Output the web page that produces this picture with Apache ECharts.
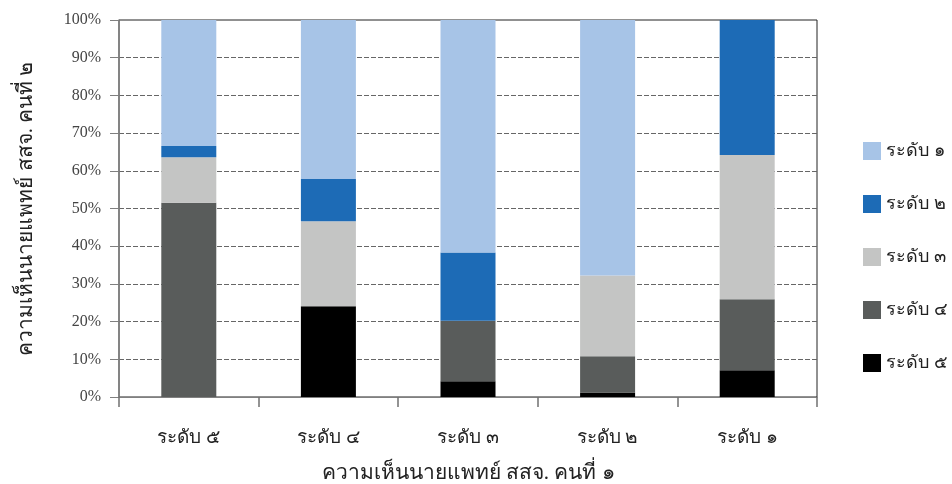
<!DOCTYPE html>
<html>
<head>
<meta charset="utf-8">
<script src="https://cdn.jsdelivr.net/npm/echarts@6/dist/echarts.min.js"></script>
<style>
  html, body { margin: 0; padding: 0; background: #fff; }
  #main { width: 952px; height: 484px; }
</style>
</head>
<body>
<div id="main"></div>
<script>
// categories on x axis (doctor 1 opinion)
const categories = ["ระดับ ๕", "ระดับ ๔", "ระดับ ๓", "ระดับ ๒", "ระดับ ๑"];
// percentages per level of doctor 2, stacked from bottom
const level5 = [0, 24.1, 4.2, 1.2, 7.1];
const level4 = [51.5, 0, 16.0, 9.6, 18.8];
const level3 = [12.1, 22.5, 0, 21.4, 38.3];
const level2 = [3.0, 11.2, 18.1, 0, 35.8];
const level1 = [33.4, 42.2, 61.7, 67.8, 0];
const yTicks = [0, 10, 20, 30, 40, 50, 60, 70, 80, 90, 100];

const serif = "'Liberation Serif', 'DejaVu Serif', serif";
let chart = echarts.init(document.getElementById("main"));

const mk = (name, data, color) => ({
  name: name,
  type: "bar",
  stack: "total",
  barWidth: 55,
  data: data,
  itemStyle: { color: color }
});

chart.setOption({
  animation: false,
  grid: {
    left: 119, right: 135, top: 20, bottom: 87,
    outerBoundsMode: "none",
    show: true, borderColor: "#222", borderWidth: 1
  },
  legend: {
    orient: "vertical",
    left: 858, top: 137,
    itemWidth: 18, itemHeight: 18, itemGap: 35,
    icon: "rect",
    data: ["ระดับ ๑", "ระดับ ๒", "ระดับ ๓", "ระดับ ๔", "ระดับ ๕"],
    textStyle: { fontFamily: serif, fontSize: 18, color: "#222" }
  },
  xAxis: {
    type: "category",
    data: categories,
    name: "ความเห็นนายแพทย์ สสจ. คนที่ ๑",
    nameLocation: "middle",
    nameGap: 66,
    nameTextStyle: { fontFamily: serif, fontSize: 21, color: "#222" },
    axisLine: { lineStyle: { color: "#808080" } },
    axisTick: { show: true, length: 10, lineStyle: { color: "#707070", width: 1.5 } },
    axisLabel: { fontFamily: serif, fontSize: 19, color: "#222", margin: 32 }
  },
  yAxis: {
    type: "value",
    min: yTicks[0], max: yTicks[yTicks.length - 1], interval: 10,
    name: "ความเห็นนายแพทย์ สสจ. คนที่ ๒",
    nameLocation: "middle",
    nameGap: 82,
    nameTextStyle: { fontFamily: serif, fontSize: 21, color: "#222" },
    axisLine: { show: true, lineStyle: { color: "#808080", width: 1.5 } },
    axisTick: { show: true, length: 9, lineStyle: { color: "#808080" } },
    axisLabel: { fontFamily: serif, fontSize: 16, color: "#444", formatter: "{value}%", margin: 18 },
    splitLine: {
      showMaxLine: false,
      lineStyle: { color: "#666", type: [5, 2], width: 1.2 }
    }
  },
  series: [
    mk("ระดับ ๕", level5, "#000000"),
    mk("ระดับ ๔", level4, "#595c5b"),
    mk("ระดับ ๓", level3, "#c4c5c4"),
    mk("ระดับ ๒", level2, "#1d6bb6"),
    mk("ระดับ ๑", level1, "#a7c4e7")
  ]
});
</script>
</body>
</html>
